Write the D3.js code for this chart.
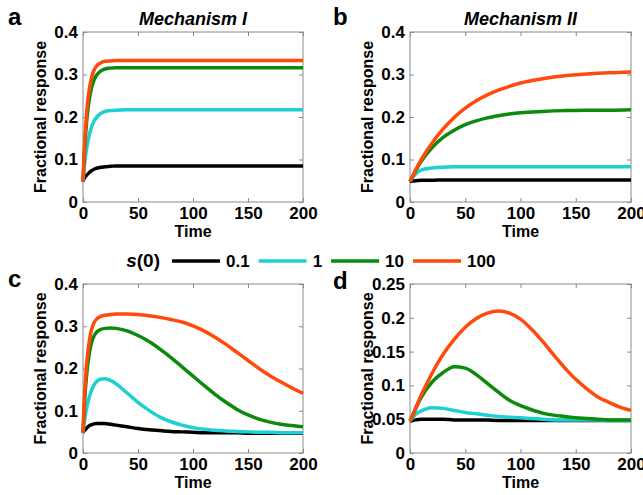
<!DOCTYPE html>
<html>
<head>
<meta charset="utf-8">
<script src="https://cdn.jsdelivr.net/npm/d3@7"></script>
<style>
  body { margin: 0; background: #fff; }
  text { font-family: "Liberation Sans", Arial, sans-serif; font-weight: bold; fill: #000; }
</style>
</head>
<body>
<svg id="chart" width="643" height="495"></svg>
<script>
// legend levels of s(0) and their colours
const levels = ['0.1', '1', '10', '100'];
const colors = ['#000000', '#1fd0d2', '#0b8a0b', '#ff4a0c'];

const xTicks = [0, 50, 100, 150, 200];
const yTicks = [0, 0.1, 0.2, 0.3, 0.4];
const yTicksD = [0, 0.05, 0.1, 0.15, 0.2, 0.25];

// a: Mechanism I, constant signal
const timeA = [0, 1, 2, 3, 4, 6, 8, 10, 12, 15, 20, 25, 30, 40, 50, 75, 100, 125, 150, 175, 200];
const aBlack  = [0.048, 0.055, 0.059, 0.062, 0.065, 0.070, 0.074, 0.077, 0.079, 0.081, 0.083, 0.084, 0.085, 0.085, 0.085, 0.085, 0.085, 0.085, 0.085, 0.085, 0.085];
const aCyan   = [0.048, 0.078, 0.101, 0.120, 0.136, 0.161, 0.178, 0.190, 0.198, 0.206, 0.213, 0.215, 0.216, 0.217, 0.217, 0.217, 0.217, 0.217, 0.217, 0.217, 0.217];
const aGreen  = [0.048, 0.103, 0.146, 0.180, 0.207, 0.246, 0.271, 0.287, 0.297, 0.306, 0.313, 0.315, 0.316, 0.316, 0.316, 0.316, 0.316, 0.316, 0.316, 0.316, 0.316];
const aOrange = [0.048, 0.113, 0.161, 0.199, 0.229, 0.270, 0.295, 0.310, 0.319, 0.326, 0.331, 0.332, 0.333, 0.333, 0.333, 0.333, 0.333, 0.333, 0.333, 0.333, 0.333];

// b: Mechanism II, constant signal
const timeB = [0, 5, 10, 20, 30, 40, 50, 60, 70, 80, 90, 100, 120, 140, 160, 180, 200];
const bBlack  = [0.048, 0.050, 0.051, 0.051, 0.052, 0.052, 0.052, 0.052, 0.052, 0.052, 0.052, 0.052, 0.052, 0.052, 0.052, 0.052, 0.052];
const bCyan   = [0.048, 0.066, 0.075, 0.080, 0.082, 0.083, 0.083, 0.083, 0.083, 0.083, 0.083, 0.083, 0.083, 0.083, 0.083, 0.083, 0.083];
const bGreen  = [0.048, 0.073, 0.095, 0.128, 0.152, 0.169, 0.182, 0.191, 0.198, 0.203, 0.207, 0.210, 0.213, 0.215, 0.216, 0.216, 0.217];
const bOrange = [0.048, 0.075, 0.099, 0.139, 0.172, 0.199, 0.221, 0.238, 0.252, 0.263, 0.272, 0.280, 0.290, 0.297, 0.301, 0.304, 0.306];

// c: Mechanism I, decaying signal
const timeC = [0, 1, 2, 3, 4, 6, 8, 10, 12, 15, 20, 25, 30, 40, 50, 60, 70, 80, 90, 100, 110, 120, 130, 140, 150, 160, 170, 180, 190, 200];
const cBlack  = [0.048, 0.052, 0.055, 0.058, 0.061, 0.065, 0.067, 0.069, 0.070, 0.070, 0.070, 0.068, 0.066, 0.062, 0.058, 0.055, 0.053, 0.051, 0.050, 0.049, 0.048, 0.048, 0.048, 0.048, 0.047, 0.047, 0.047, 0.047, 0.047, 0.047];
const cCyan   = [0.048, 0.070, 0.087, 0.102, 0.115, 0.135, 0.150, 0.161, 0.168, 0.174, 0.176, 0.172, 0.164, 0.142, 0.120, 0.101, 0.085, 0.074, 0.066, 0.060, 0.056, 0.054, 0.052, 0.051, 0.050, 0.049, 0.049, 0.048, 0.048, 0.048];
const cGreen  = [0.048, 0.100, 0.143, 0.176, 0.202, 0.240, 0.263, 0.277, 0.285, 0.291, 0.295, 0.296, 0.295, 0.289, 0.278, 0.264, 0.246, 0.226, 0.204, 0.182, 0.160, 0.139, 0.120, 0.103, 0.090, 0.080, 0.073, 0.068, 0.065, 0.062];
const cOrange = [0.048, 0.115, 0.163, 0.200, 0.229, 0.270, 0.294, 0.308, 0.316, 0.322, 0.326, 0.328, 0.329, 0.329, 0.328, 0.325, 0.321, 0.316, 0.310, 0.301, 0.289, 0.274, 0.257, 0.238, 0.219, 0.200, 0.183, 0.168, 0.154, 0.141];

// d: Mechanism II, decaying signal
const timeD = [0, 5, 10, 20, 30, 40, 50, 60, 70, 80, 90, 100, 110, 120, 130, 140, 150, 160, 170, 180, 190, 200];
const dBlack  = [0.047, 0.049, 0.050, 0.050, 0.050, 0.049, 0.049, 0.049, 0.049, 0.048, 0.048, 0.048, 0.048, 0.048, 0.048, 0.048, 0.048, 0.048, 0.048, 0.048, 0.048, 0.048];
const dCyan   = [0.047, 0.057, 0.062, 0.067, 0.066, 0.063, 0.060, 0.058, 0.056, 0.054, 0.053, 0.052, 0.051, 0.050, 0.049, 0.049, 0.049, 0.049, 0.049, 0.048, 0.048, 0.048];
const dGreen  = [0.047, 0.065, 0.082, 0.105, 0.119, 0.1275, 0.1255, 0.116, 0.103, 0.090, 0.078, 0.070, 0.064, 0.059, 0.056, 0.054, 0.052, 0.051, 0.050, 0.049, 0.049, 0.049];
const dOrange = [0.047, 0.066, 0.085, 0.118, 0.146, 0.168, 0.186, 0.199, 0.207, 0.210, 0.207, 0.198, 0.183, 0.165, 0.145, 0.126, 0.109, 0.095, 0.083, 0.075, 0.068, 0.063];

const panels = [
  { letter: 'a', ly: 25,  title: 'Mechanism I',  time: timeA, series: [aBlack, aCyan, aGreen, aOrange], yTicks: yTicks,  x0: 83,  x1: 303, y0: 32,  y1: 202 },
  { letter: 'b', ly: 25,  title: 'Mechanism II', time: timeB, series: [bBlack, bCyan, bGreen, bOrange], yTicks: yTicks,  x0: 410, x1: 631, y0: 32,  y1: 202 },
  { letter: 'c', ly: 287, title: null,           time: timeC, series: [cBlack, cCyan, cGreen, cOrange], yTicks: yTicks,  x0: 83,  x1: 303, y0: 284, y1: 453 },
  { letter: 'd', ly: 289, title: null,           time: timeD, series: [dBlack, dCyan, dGreen, dOrange], yTicks: yTicksD, x0: 410, x1: 631, y0: 284, y1: 453 },
];

const svg = d3.select('#chart');
const boxColor = '#8a8a8a';

const drawPanel = (p) => {
  const x = d3.scaleLinear().domain([0, 200]).range([p.x0, p.x1]);
  const y = d3.scaleLinear().domain([0, d3.max(p.yTicks)]).range([p.y1, p.y0]);
  const g = svg.append('g');
  const fmt = d3.format('~g');

  // mirrored inward ticks on top / right
  g.append('g').attr('transform', `translate(0,${p.y0})`)
    .call(d3.axisTop(x).tickValues(xTicks).tickSizeInner(-4).tickSizeOuter(0).tickFormat(''));
  g.append('g').attr('transform', `translate(${p.x1},0)`)
    .call(d3.axisRight(y).tickValues(p.yTicks).tickSizeInner(-4).tickSizeOuter(0).tickFormat(''));

  const xAxis = g.append('g').attr('transform', `translate(0,${p.y1})`)
    .call(d3.axisBottom(x).tickValues(xTicks).tickSizeInner(-4).tickSizeOuter(0).tickPadding(5).tickFormat(fmt));
  const yAxis = g.append('g').attr('transform', `translate(${p.x0},0)`)
    .call(d3.axisLeft(y).tickValues(p.yTicks).tickSizeInner(-4).tickSizeOuter(0).tickPadding(5).tickFormat(fmt));

  g.selectAll('.domain').remove();
  g.selectAll('.tick line').attr('stroke', boxColor);
  xAxis.selectAll('text').attr('font-size', 17).attr('font-family', null).attr('dy', '0.72em');
  yAxis.selectAll('text').attr('font-size', 17).attr('font-family', null);

  g.append('rect')
    .attr('x', p.x0).attr('y', p.y0)
    .attr('width', p.x1 - p.x0).attr('height', p.y1 - p.y0)
    .attr('fill', 'none').attr('stroke', boxColor).attr('stroke-width', 1);

  const line = d3.line()
    .x((d, i) => x(p.time[i]))
    .y(d => y(d))
    .curve(d3.curveMonotoneX);

  p.series.forEach((s, i) => {
    g.append('path')
      .datum(s)
      .attr('d', line)
      .attr('fill', 'none')
      .attr('stroke', colors[i])
      .attr('stroke-width', 3.5)
      .attr('stroke-linejoin', 'round');
  });

  g.append('text')
    .attr('x', (p.x0 + p.x1) / 2).attr('y', p.y1 + 35)
    .attr('text-anchor', 'middle').attr('font-size', 16)
    .text('Time');

  g.append('text')
    .attr('transform', `translate(${p.x0 - 37},${(p.y0 + p.y1) / 2}) rotate(-90)`)
    .attr('text-anchor', 'middle').attr('font-size', 16)
    .text('Fractional response');

  if (p.title) {
    g.append('text')
      .attr('x', (p.x0 + p.x1) / 2).attr('y', p.y0 - 7)
      .attr('text-anchor', 'middle').attr('font-size', 18).attr('font-style', 'italic')
      .text(p.title);
  }

  g.append('text')
    .attr('x', p.x0 < 200 ? 8 : 333).attr('y', p.ly)
    .attr('font-size', 24)
    .text(p.letter);
};

panels.forEach(drawPanel);

// legend
const legend = svg.append('g').attr('transform', 'translate(0,261)');
const lt = legend.append('text').attr('x', 160).attr('y', 6).attr('text-anchor', 'end').attr('font-size', 19);
lt.append('tspan').attr('font-style', 'italic').text('s');
lt.append('tspan').text('(0)');

let lx = 172;
levels.forEach((lv, i) => {
  legend.append('line')
    .attr('x1', lx).attr('x2', lx + 48)
    .attr('y1', 0).attr('y2', 0)
    .attr('stroke', colors[i]).attr('stroke-width', 3.5);
  const t = legend.append('text')
    .attr('x', lx + 54).attr('y', 6)
    .attr('font-size', 17)
    .text(lv);
  lx += 54 + t.node().getComputedTextLength() + 9;
});
</script>
</body>
</html>
